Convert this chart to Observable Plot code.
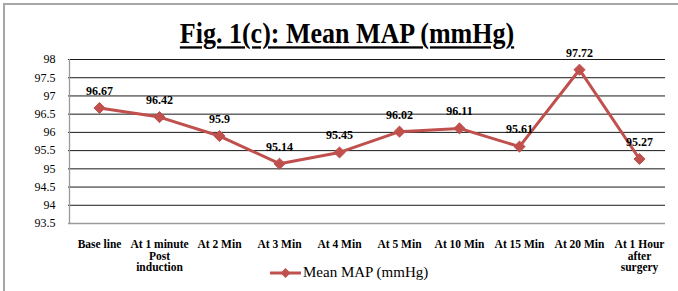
<!DOCTYPE html>
<html>
<head>
<meta charset="utf-8">
<script src="https://cdn.jsdelivr.net/npm/d3@7"></script>
<script src="https://cdn.jsdelivr.net/npm/@observablehq/plot@0.6"></script>
<style>
  body { margin: 0; background: #fff; }
  #wrap { position: relative; width: 678px; height: 291px; overflow: hidden; background: #fff; }
  #frame { position: absolute; left: 3px; top: 3px; width: 690px; height: 300px; border-left: 2px solid #a6a6a6; border-top: 2px solid #a6a6a6; }
  #title { position: absolute; left: 0; width: 694px; top: 22px; text-align: center; line-height: 1;
           font-family: "Liberation Serif", "Times New Roman", serif; font-weight: bold; font-size: 26px;
           text-decoration: underline; text-underline-offset: 3px; text-decoration-thickness: 2px; color: #000;
           transform: scaleY(1.15); transform-origin: 50% 22px; }
  #legend { position: absolute; left: 269px; top: 264px; display: flex; align-items: center;
            font-family: "Liberation Serif", "Times New Roman", serif; font-size: 15px; color: #000; }
  #chart { position: absolute; left: 0; top: 0; }
</style>
</head>
<body>
<div id="wrap">
  <div id="frame"></div>
  <div id="chart"></div>
  <div id="title">Fig. 1(c): Mean MAP (mmHg)</div>
  <div id="legend">
    <svg width="33" height="14"><line x1="1" y1="7" x2="32" y2="7" stroke="#C0504D" stroke-width="3"/><path d="M16.5,2 L21.5,7 L16.5,12 L11.5,7 Z" fill="#C0504D"/></svg>
    <span style="margin-left:1px">Mean MAP (mmHg)</span>
  </div>
</div>
<script>
const categories = ["Base line", "At 1 minute\nPost\ninduction", "At 2 Min", "At 3 Min", "At 4 Min", "At 5 Min", "At 10 Min", "At 15 Min", "At 20 Min", "At 1 Hour\nafter\nsurgery"];
const values = [96.67, 96.42, 95.9, 95.14, 95.45, 96.02, 96.11, 95.61, 97.72, 95.27];
const yTicks = [93.5, 94, 94.5, 95, 95.5, 96, 96.5, 97, 97.5, 98];
const gridTicks = [94, 94.5, 95, 95.5, 96, 96.5, 97, 97.5, 98];
const yMin = 93.5;

const data = categories.map((c, i) => ({cat: c, v: values[i]}));
const serif = "'Liberation Serif', 'Times New Roman', serif";

const chart = Plot.plot({
  width: 678,
  height: 291,
  marginLeft: 68,
  marginRight: 8,
  marginTop: 59,
  marginBottom: 68,
  style: {fontFamily: serif, background: "transparent", overflow: "visible"},
  x: {type: "point", domain: categories, padding: 0.5, axis: null},
  y: {domain: [93.5, 98], ticks: yTicks, tickSize: 0, tickPadding: 13, label: null,
      tickFormat: d => String(d), axis: null},
  marks: [
    Plot.ruleY(gridTicks, {stroke: "#1a1a1a", strokeWidth: 1, insetRight: 5}),
    Plot.ruleY([yMin], {stroke: "#9a9a9a", strokeWidth: 1.3, insetRight: 5}),
    Plot.ruleX([0], {x: () => categories[0], y1: 93.5, y2: 98, stroke: "#9a9a9a", strokeWidth: 1.3, dx: -30}),
    Plot.axisY({ticks: yTicks, tickSize: 0, tickPadding: 13, fontSize: 12, tickFormat: d => String(d), label: null, fill: "#000"}),
    Plot.line(data, {x: "cat", y: "v", stroke: "#C0504D", strokeWidth: 3}),
    Plot.dot(data, {x: "cat", y: "v", symbol: "diamond2", r: 5, fill: "#C0504D", stroke: "#C0504D", strokeWidth: 1}),
    Plot.text(data, {x: "cat", y: "v", text: d => String(d.v), dy: -17, fontWeight: "bold", fontSize: 12, fill: "#000"}),
    Plot.text(data, {x: "cat", y: () => yMin, text: "cat", dy: 16, lineAnchor: "top", lineHeight: 1.02, fontWeight: "bold", fontSize: 11.5, fill: "#000"})
  ]
});
document.getElementById("chart").appendChild(chart);
</script>
</body>
</html>
